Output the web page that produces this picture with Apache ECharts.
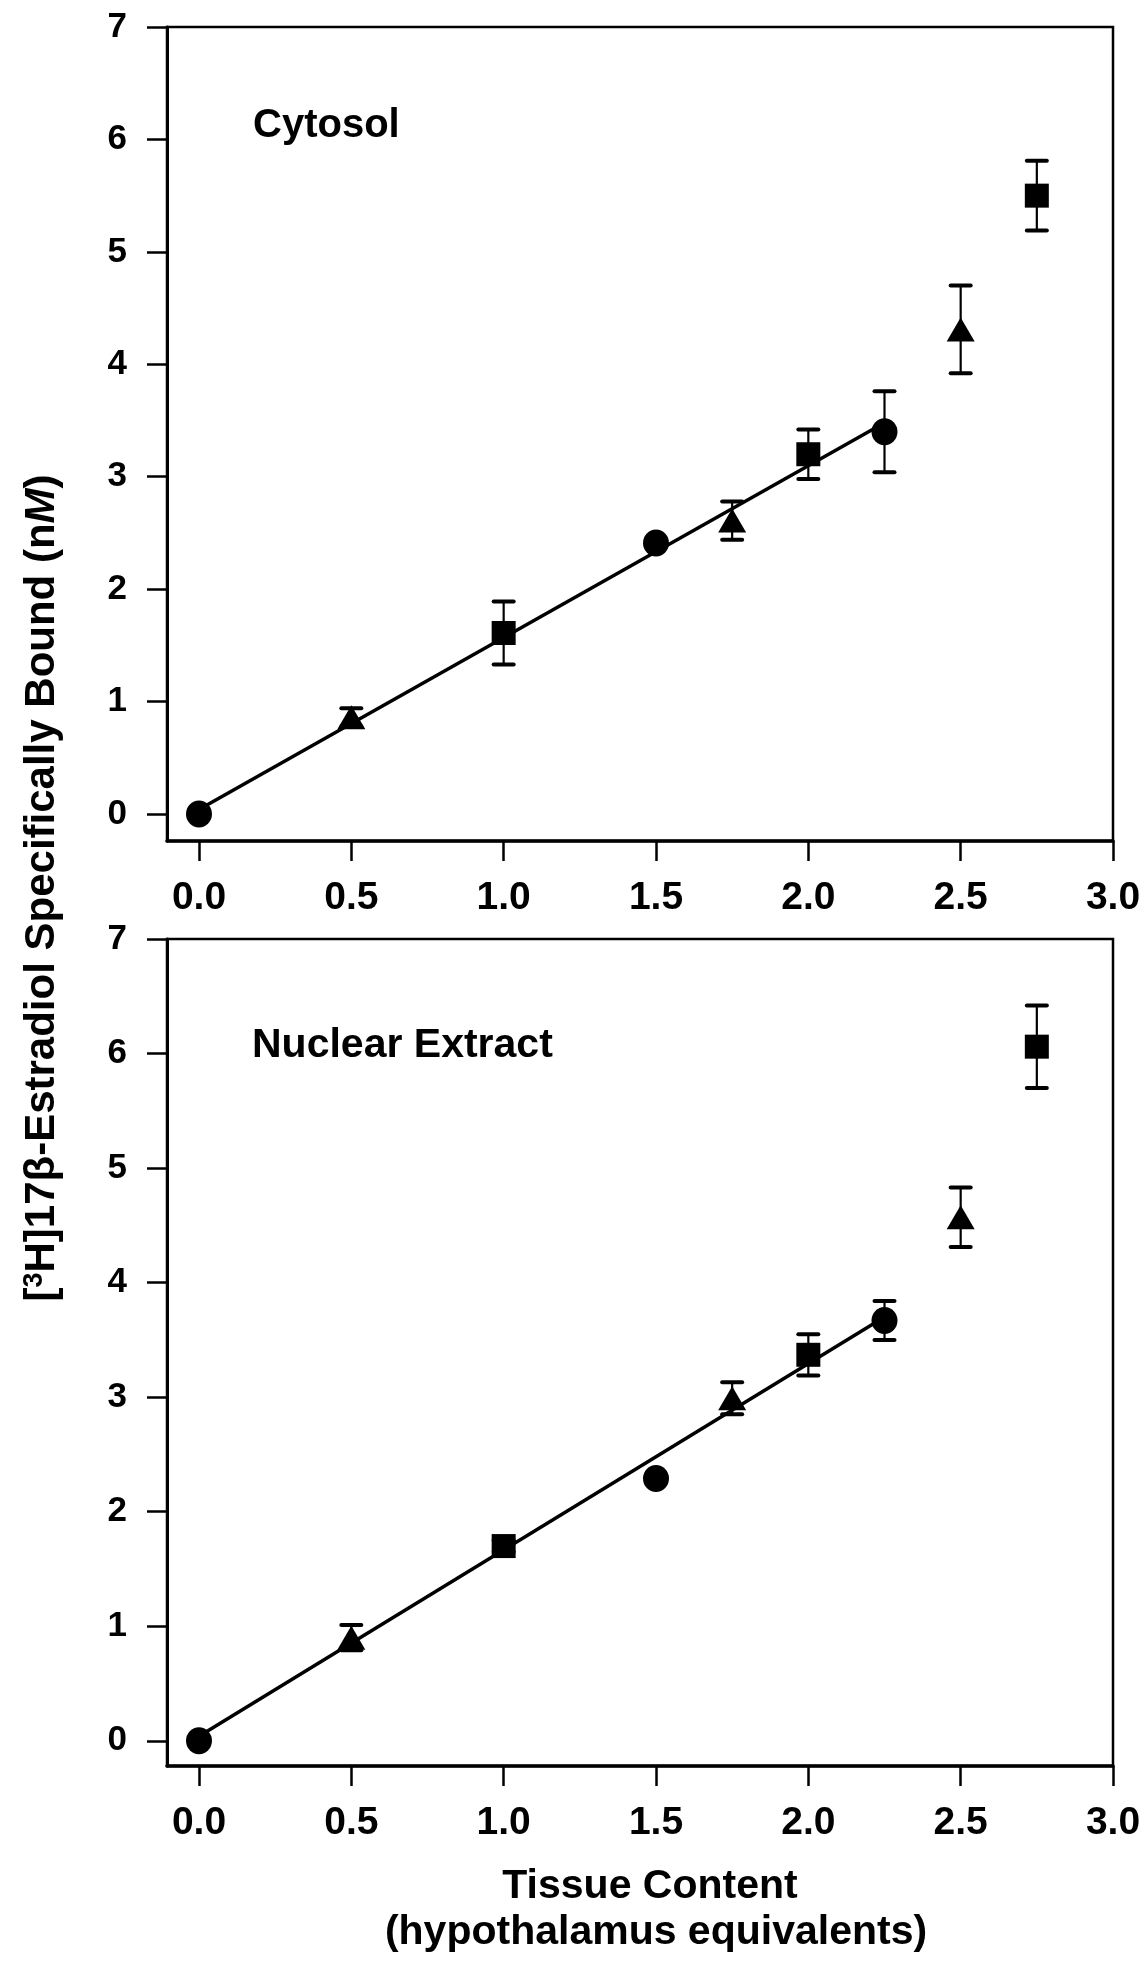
<!DOCTYPE html>
<html lang="en">
<head>
    <meta charset="UTF-8">
    <title>Estradiol Binding vs Tissue Content</title>
    <script src="https://cdn.jsdelivr.net/npm/echarts@6/dist/echarts.min.js"></script>
    <style>
        body { margin: 0; background: #fff; }
    </style>
</head>
<body>
    <div id="chart" style="width: 1148px; height: 1962px;"></div>

    <script>
        // tissue content (hypothalamus equivalents) and marker shape for each point
        var doses = [0, 0.5, 1.0, 1.5, 1.75, 2.0, 2.25, 2.5, 2.75];
        var shapes = ['circle', 'triangle', 'rect', 'circle', 'triangle', 'rect', 'circle', 'triangle', 'rect'];

        // bound estradiol, nM (mean and error)
        var cytosolMean = [0, 0.86, 1.61, 2.41, 2.61, 3.20, 3.40, 4.31, 5.50];
        var cytosolErr  = [0, 0.08, 0.28, 0, 0.17, 0.22, 0.36, 0.39, 0.31];
        var nuclearMean = [0, 0.90, 1.70, 2.29, 2.99, 3.37, 3.67, 4.57, 6.06];
        var nuclearErr  = [0, 0.11, 0.05, 0, 0.14, 0.18, 0.17, 0.26, 0.36];

        // regression lines drawn through the linear part
        var cytosolFit = [[0, 0.04], [2.25, 3.48]];
        var nuclearFit = [[0, 0.04], [2.25, 3.70]];

        var xTicks = [0, 0.5, 1.0, 1.5, 2.0, 2.5, 3.0];
        var yTicks = [0, 1, 2, 3, 4, 5, 6, 7];

        var font = "'Liberation Sans', Arial, sans-serif";
        var chart = echarts.init(document.getElementById('chart'));

        function xAxisFor(idx) {
            return {
                type: 'value', gridIndex: idx, min: -0.105, max: 3.0,
                axisLine: { onZero: false, lineStyle: { color: '#000', width: 3.5 } },
                axisTick: { customValues: xTicks, length: 20, lineStyle: { color: '#000', width: 2.5 } },
                axisLabel: {
                    customValues: xTicks, margin: 38, color: '#000',
                    fontFamily: font, fontWeight: 'bold', fontSize: 39,
                    formatter: function (v) { return v.toFixed(1); }
                },
                splitLine: { show: false }
            };
        }

        function yAxisFor(idx, lo) {
            return {
                type: 'value', gridIndex: idx, min: lo, max: 7,
                axisLine: { onZero: false, lineStyle: { color: '#000', width: 3 } },
                axisTick: { customValues: yTicks, length: 20, lineStyle: { color: '#000', width: 2.5 } },
                axisLabel: {
                    customValues: yTicks, margin: 40, color: '#000',
                    fontFamily: font, fontWeight: 'bold', fontSize: 35
                },
                splitLine: { show: false }
            };
        }

        function errRender(params, api) {
            var x = api.value(0), lo = api.value(1), hi = api.value(2);
            var top = api.coord([x, hi]);
            var bot = api.coord([x, lo]);
            var w = 10;
            var st = { stroke: '#000', lineWidth: 2.2 };
            var cap = { stroke: '#000', lineWidth: 4, lineCap: 'round' };
            return {
                type: 'group',
                children: [
                    { type: 'line', shape: { x1: top[0], y1: top[1], x2: bot[0], y2: bot[1] }, style: st },
                    { type: 'line', shape: { x1: top[0] - w, y1: top[1], x2: top[0] + w, y2: top[1] }, style: cap },
                    { type: 'line', shape: { x1: bot[0] - w, y1: bot[1], x2: bot[0] + w, y2: bot[1] }, style: cap }
                ]
            };
        }

        var sizes = { circle: [26, 27], triangle: [28, 24], rect: [24, 24] };

        function panelSeries(idx, mean, err, fit) {
            var out = [];
            var errData = [];
            for (var i = 0; i < doses.length; i++) {
                if (err[i] > 0) errData.push([doses[i], mean[i] - err[i], mean[i] + err[i]]);
            }
            out.push({
                type: 'custom', xAxisIndex: idx, yAxisIndex: idx,
                renderItem: errRender, data: errData, z: 2, silent: true
            });
            out.push({
                type: 'line', xAxisIndex: idx, yAxisIndex: idx, data: fit,
                symbol: 'none', lineStyle: { color: '#000', width: 3.5 }, z: 3, silent: true
            });
            ['circle', 'triangle', 'rect'].forEach(function (s) {
                var pts = [];
                for (var i = 0; i < doses.length; i++) {
                    if (shapes[i] === s) pts.push([doses[i], mean[i]]);
                }
                out.push({
                    type: 'scatter', xAxisIndex: idx, yAxisIndex: idx, data: pts,
                    symbol: s, symbolSize: sizes[s],
                    itemStyle: { color: '#000', opacity: 1 }, z: 4, silent: true
                });
            });
            return out;
        }

        var options = {
            animation: false,
            backgroundColor: '#fff',
            grid: [
                { left: 167, top: 27, width: 946, height: 814, show: true, borderColor: '#000', borderWidth: 2.5 },
                { left: 167, top: 939, width: 946, height: 827, show: true, borderColor: '#000', borderWidth: 2.5 }
            ],
            xAxis: [xAxisFor(0), xAxisFor(1)],
            yAxis: [yAxisFor(0, -0.24), yAxisFor(1, -0.22)],
            series: panelSeries(0, cytosolMean, cytosolErr, cytosolFit)
                .concat(panelSeries(1, nuclearMean, nuclearErr, nuclearFit)),
            graphic: [
                {
                    type: 'text', left: 253, top: 106,
                    style: { text: 'Cytosol', font: 'bold 40px ' + font, fill: '#000' }
                },
                {
                    type: 'text', left: 252, top: 1025,
                    style: { text: 'Nuclear Extract', font: 'bold 41px ' + font, fill: '#000' }
                },
                {
                    type: 'text', x: 650, y: 1887,
                    style: {
                        text: 'Tissue Content', font: 'bold 41px ' + font, fill: '#000',
                        align: 'center', verticalAlign: 'middle'
                    }
                },
                {
                    type: 'text', x: 656, y: 1933,
                    style: {
                        text: '(hypothalamus equivalents)', font: 'bold 41px ' + font, fill: '#000',
                        align: 'center', verticalAlign: 'middle'
                    }
                },
                {
                    type: 'text', x: 42, y: 888, rotation: Math.PI / 2,
                    style: {
                        text: '[{sup|3}H]17β-Estradiol Specifically Bound (n{it|M})',
                        font: 'bold 42px ' + font, fill: '#000',
                        align: 'center', verticalAlign: 'middle',
                        rich: {
                            sup: { fontSize: 27, fontWeight: 'bold', fontFamily: font, verticalAlign: 'top', lineHeight: 42 },
                            it: { fontSize: 42, fontWeight: 'bold', fontStyle: 'italic', fontFamily: font }
                        }
                    }
                }
            ]
        };

        chart.setOption(options);
    </script>
</body>
</html>
